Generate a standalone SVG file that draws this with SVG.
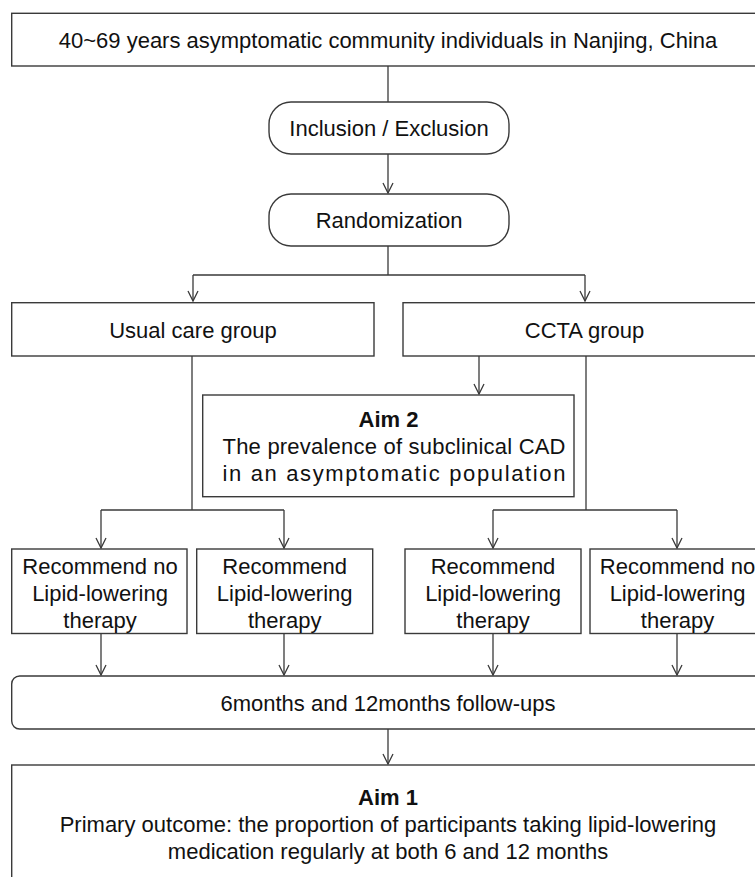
<svg xmlns="http://www.w3.org/2000/svg" width="755" height="877" viewBox="0 0 755 877">
<style>
.box{fill:#fff;stroke:#3a3a3a;stroke-width:1.4}
.t{font-family:"Liberation Sans",Arial,sans-serif;font-size:22px;fill:#111;text-anchor:middle}
.b{font-weight:bold}
.c{fill:none;stroke:#3a3a3a;stroke-width:1.3}
</style>
<defs>
<marker id="ah" markerUnits="userSpaceOnUse" markerWidth="14" markerHeight="14" viewBox="-12 -7 14 14" refX="0" refY="0" orient="auto">
<path d="M-10,-5 L0,0 L-10,5" fill="none" stroke="#3a3a3a" stroke-width="1.3"/>
</marker>
</defs>
<rect width="755" height="877" fill="#fff"/>
<g id="connectors">
<path class="c" d="M388,66 V102"/>
<path class="c" d="M388,154 V193" marker-end="url(#ah)"/>
<path class="c" d="M388,246 V275 M193,275 H585"/>
<path class="c" d="M193,275 V301" marker-end="url(#ah)"/>
<path class="c" d="M585,275 V301" marker-end="url(#ah)"/>
<path class="c" d="M192,356 V510 M101,510 H284"/>
<path class="c" d="M101,510 V548" marker-end="url(#ah)"/>
<path class="c" d="M284,510 V548" marker-end="url(#ah)"/>
<path class="c" d="M479,356 V394" marker-end="url(#ah)"/>
<path class="c" d="M586,356 V510 M493,510 H677"/>
<path class="c" d="M493,510 V548" marker-end="url(#ah)"/>
<path class="c" d="M677,510 V548" marker-end="url(#ah)"/>
<path class="c" d="M101,634 V675" marker-end="url(#ah)"/>
<path class="c" d="M284,634 V675" marker-end="url(#ah)"/>
<path class="c" d="M493,634 V675" marker-end="url(#ah)"/>
<path class="c" d="M677,634 V675" marker-end="url(#ah)"/>
<path class="c" d="M388,729 V764" marker-end="url(#ah)"/>
</g>
<g id="population">
<rect class="box" x="11.7" y="13.3" width="753" height="52.7"/>
<text class="t" x="388" y="48">40~69 years asymptomatic community individuals in Nanjing, China</text>
</g>
<g id="inclusion">
<rect class="box" x="269" y="102" width="240" height="52" rx="22"/>
<text class="t" x="389" y="136">Inclusion / Exclusion</text>
</g>
<g id="randomization">
<rect class="box" x="269" y="194" width="240" height="52" rx="22"/>
<text class="t" x="389" y="228">Randomization</text>
</g>
<g id="usual-care">
<rect class="box" x="11.7" y="302.7" width="362.3" height="53.3"/>
<text class="t" x="193" y="337.5">Usual care group</text>
</g>
<g id="ccta">
<rect class="box" x="403" y="302.7" width="363" height="53.3"/>
<text class="t" x="584.5" y="337.5">CCTA group</text>
</g>
<g id="aim2">
<rect class="box" x="202.7" y="395" width="371.3" height="101.7"/>
<text class="t b" x="388.5" y="427">Aim 2</text>
<text class="t" x="394" y="454" textLength="343" lengthAdjust="spacing">The prevalence of subclinical CAD</text>
<text class="t" x="394" y="481" textLength="343" lengthAdjust="spacing">in an asymptomatic population</text>
</g>
<g id="uc-no">
<rect class="box" x="11.7" y="549" width="175.3" height="84.5"/>
<text class="t" x="100" y="573.5">Recommend no</text>
<text class="t" x="100" y="600.8">Lipid-lowering</text>
<text class="t" x="100" y="628">therapy</text>
</g>
<g id="uc-yes">
<rect class="box" x="196.7" y="549" width="176" height="84.5"/>
<text class="t" x="284.7" y="573.5">Recommend</text>
<text class="t" x="284.7" y="600.8">Lipid-lowering</text>
<text class="t" x="284.7" y="628">therapy</text>
</g>
<g id="ccta-yes">
<rect class="box" x="405" y="549" width="176" height="84.5"/>
<text class="t" x="493" y="573.5">Recommend</text>
<text class="t" x="493" y="600.8">Lipid-lowering</text>
<text class="t" x="493" y="628">therapy</text>
</g>
<g id="ccta-no">
<rect class="box" x="590" y="549" width="175" height="84.5"/>
<text class="t" x="677.5" y="573.5">Recommend no</text>
<text class="t" x="677.5" y="600.8">Lipid-lowering</text>
<text class="t" x="677.5" y="628">therapy</text>
</g>
<g id="follow-up">
<rect class="box" x="11.7" y="676" width="753" height="53" rx="8"/>
<text class="t" x="388" y="710.5">6months and 12months follow-ups</text>
</g>
<g id="aim1">
<rect class="box" x="11.7" y="765" width="753" height="125"/>
<text class="t b" x="388" y="805">Aim 1</text>
<text class="t" x="388" y="832">Primary outcome: the proportion of participants taking lipid-lowering</text>
<text class="t" x="388" y="859">medication regularly at both 6 and 12 months</text>
</g>
</svg>
